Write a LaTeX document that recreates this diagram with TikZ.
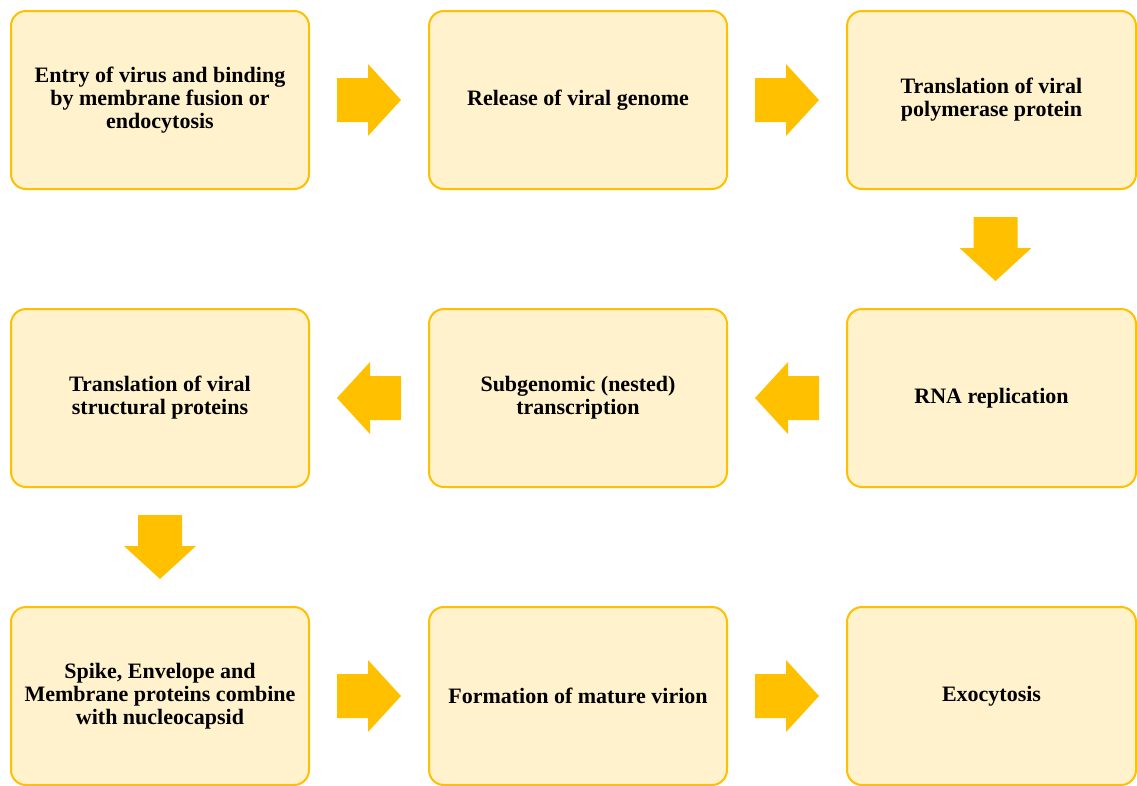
\documentclass[tikz,border=0pt]{standalone}
\usepackage{fontspec}
\setmainfont{Liberation Serif}
\usepackage{tikz}
\usetikzlibrary{positioning, calc}
\definecolor{gold}{HTML}{FFC000}
\definecolor{cream}{HTML}{FFF2CC}

\begin{document}
\begin{tikzpicture}[
  node distance=120pt and 120pt,
  box/.style={rectangle, draw=gold, fill=cream, line width=2pt, outer sep=0pt, rounded corners=15pt, minimum width=298pt, minimum height=178pt, align=center, font=\fontsize{22}{23}\selectfont\bfseries},
  lastbox/.style={box, minimum width=289pt},
  fatarrow/.pic={\fill[gold] (-32pt,-22pt) -- (-1pt,-22pt) -- (-1pt,-36pt) -- (32pt,0pt) -- (-1pt,36pt) -- (-1pt,22pt) -- (-32pt,22pt) -- cycle;}
]
\useasboundingbox (0pt,0pt) rectangle (1137pt,-785pt);

% First row
\node[box] (entry) at (160pt,-100pt) {Entry of virus and binding\\by membrane fusion or\\endocytosis};
\node[box, right=of entry] (release) {Release of viral genome};
\node[lastbox, right=of release] (polym) {Translation of viral\\polymerase protein};

% Second row
\node[lastbox, below=of polym] (rnarep) {RNA replication};
\node[box, below=of release] (subgen) {Subgenomic (nested)\\transcription};
\node[box, below=of entry] (struct) {Translation of viral\\structural proteins};

% Third row
\node[box, below=of struct] (spike) {Spike, Envelope and\\Membrane proteins combine\\with nucleocapsid};
\node[box, below=of subgen] (virion) {Formation of mature virion};
\node[lastbox, below=of rnarep] (exo) {Exocytosis};

% Arrows
\pic at ($(entry.east)!0.5!(release.west)$) {fatarrow};
\pic at ($(release.east)!0.5!(polym.west)$) {fatarrow};
\pic[rotate=-90] at ($(polym.south)!0.5!(rnarep.north)+(4pt,0)$) {fatarrow};
\pic[rotate=180] at ($(rnarep.west)!0.5!(subgen.east)$) {fatarrow};
\pic[rotate=180] at ($(subgen.west)!0.5!(struct.east)$) {fatarrow};
\pic[rotate=-90] at ($(struct.south)!0.5!(spike.north)$) {fatarrow};
\pic at ($(spike.east)!0.5!(virion.west)$) {fatarrow};
\pic at ($(virion.east)!0.5!(exo.west)$) {fatarrow};

\end{tikzpicture}
\end{document}
